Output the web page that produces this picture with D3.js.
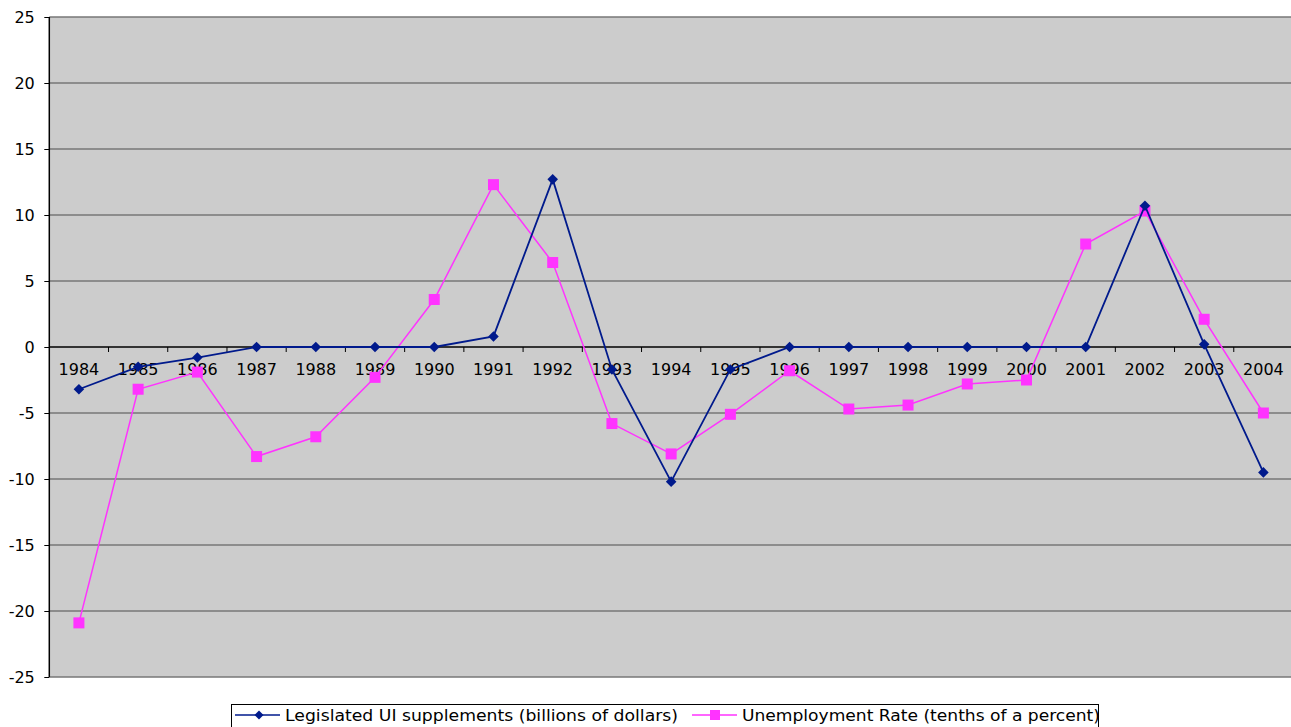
<!DOCTYPE html>
<html>
<head>
<meta charset="utf-8">
<script src="https://cdn.jsdelivr.net/npm/d3@7"></script>
<style>
  html, body { margin: 0; padding: 0; background: #ffffff; }
  svg { display: block; }
  text { font-family: "DejaVu Sans", sans-serif; }
</style>
</head>
<body>
<svg id="chart" width="1291" height="727"></svg>
<script>
// Years on the category axis
const years = ["1984","1985","1986","1987","1988","1989","1990","1991","1992","1993","1994",
               "1995","1996","1997","1998","1999","2000","2001","2002","2003","2004"];

// Legislated UI supplements (billions of dollars)
const uiSupplements = [-3.2, -1.5, -0.8, 0, 0, 0, 0, 0.8, 12.7, -1.7, -10.2,
                       -1.7, 0, 0, 0, 0, 0, 0, 10.7, 0.2, -9.5];

// Unemployment rate change (tenths of a percent)
const unemployment = [-20.9, -3.2, -1.9, -8.3, -6.8, -2.3, 3.6, 12.3, 6.4, -5.8, -8.1,
                      -5.1, -1.8, -4.7, -4.4, -2.8, -2.5, 7.8, 10.3, 2.1, -5.0];

const yTicks = [-25, -20, -15, -10, -5, 0, 5, 10, 15, 20, 25];

const seriesNames = ["Legislated UI supplements (billions of dollars)",
                     "Unemployment Rate (tenths of a percent)"];

const navy = "#001a8c";
const magenta = "#ff33ff";

const svg = d3.select("#chart");
const plot = { left: 49.3, top: 17, right: 1293, bottom: 677 };

const x = d3.scaleBand().domain(years).range([plot.left, plot.right]).paddingInner(0).paddingOuter(0);
const y = d3.scaleLinear().domain([-25, 25]).range([plot.bottom, plot.top]);
const cx = d => x(d) + x.bandwidth() / 2;

// Plot background
svg.append("rect")
  .attr("x", plot.left).attr("y", plot.top)
  .attr("width", plot.right - plot.left).attr("height", plot.bottom - plot.top)
  .attr("fill", "#cccccc");

// Horizontal gridlines
svg.append("g").selectAll("line").data(yTicks.filter(t => t !== 0)).join("line")
  .attr("x1", plot.left).attr("x2", plot.right)
  .attr("y1", d => y(d)).attr("y2", d => y(d))
  .attr("stroke", "#777777").attr("stroke-width", 1.4);

// Value axis on the left (plain hyphen for negatives)
const yAxis = svg.append("g")
  .attr("transform", `translate(${plot.left},0)`)
  .call(d3.axisLeft(y).tickValues(yTicks).tickSize(5).tickPadding(9.5).tickFormat(d => String(d)));
yAxis.select(".domain").attr("stroke", "#000").attr("stroke-width", 1.5).attr("d", `M0,${plot.top}V${plot.bottom}`);
yAxis.selectAll(".tick line").attr("stroke", "#000").attr("stroke-width", 1);
yAxis.selectAll(".tick text").attr("font-size", 16).attr("fill", "#000")
  .attr("font-family", "DejaVu Sans, sans-serif");

// Category axis crossing at zero
const xAxis = svg.append("g")
  .attr("transform", `translate(0,${y(0)})`);
xAxis.append("line")
  .attr("x1", plot.left).attr("x2", plot.right)
  .attr("y1", 0).attr("y2", 0)
  .attr("stroke", "#000").attr("stroke-width", 1.3);
xAxis.selectAll("line.tick").data(years.slice(1)).join("line")
  .attr("class", "tick")
  .attr("x1", d => x(d)).attr("x2", d => x(d))
  .attr("y1", 0).attr("y2", 5)
  .attr("stroke", "#000").attr("stroke-width", 1);
xAxis.selectAll("text").data(years).join("text")
  .attr("x", d => cx(d)).attr("y", 28)
  .attr("text-anchor", "middle")
  .attr("font-size", 16).attr("fill", "#000")
  .text(d => d);

const line = d3.line().x((d, i) => cx(years[i])).y(d => y(d));

// Unemployment rate series (magenta, squares)
svg.append("path").datum(unemployment)
  .attr("d", line).attr("fill", "none")
  .attr("stroke", magenta).attr("stroke-width", 1.5);
svg.append("g").selectAll("rect").data(unemployment).join("rect")
  .attr("x", (d, i) => cx(years[i]) - 5.5).attr("y", d => y(d) - 5.5)
  .attr("width", 11).attr("height", 11)
  .attr("fill", magenta);

// UI supplements series (navy, diamonds)
svg.append("path").datum(uiSupplements)
  .attr("d", line).attr("fill", "none")
  .attr("stroke", navy).attr("stroke-width", 1.8);
svg.append("g").selectAll("path").data(uiSupplements).join("path")
  .attr("transform", (d, i) => `translate(${cx(years[i])},${y(d)}) rotate(45)`)
  .attr("d", d3.symbol().type(d3.symbolSquare).size(56))
  .attr("fill", navy);

// Legend
const legend = svg.append("g");
legend.append("rect")
  .attr("x", 231.5).attr("y", 704.5)
  .attr("width", 867).attr("height", 28)
  .attr("fill", "#fff").attr("stroke", "#000").attr("stroke-width", 1);

const items = [
  { name: seriesNames[0], color: navy, marker: "diamond", x0: 235, textWidth: 393 },
  { name: seriesNames[1], color: magenta, marker: "square", x0: 692, textWidth: 358 }
];
const ly = 715;
items.forEach(it => {
  const g = legend.append("g");
  g.append("line").attr("x1", it.x0).attr("x2", it.x0 + 45).attr("y1", ly).attr("y2", ly)
    .attr("stroke", it.color).attr("stroke-width", 1.5);
  if (it.marker === "diamond") {
    g.append("path").attr("transform", `translate(${it.x0 + 24},${ly}) rotate(45)`)
      .attr("d", d3.symbol().type(d3.symbolSquare).size(40)).attr("fill", it.color);
  } else {
    g.append("rect").attr("x", it.x0 + 18).attr("y", ly - 5).attr("width", 10).attr("height", 10)
      .attr("fill", it.color);
  }
  g.append("text").attr("x", it.x0 + 50).attr("y", ly + 6)
    .attr("font-size", 16).attr("fill", "#000")
    .attr("textLength", it.textWidth).attr("lengthAdjust", "spacingAndGlyphs")
    .text(it.name);
});
</script>
</body>
</html>
